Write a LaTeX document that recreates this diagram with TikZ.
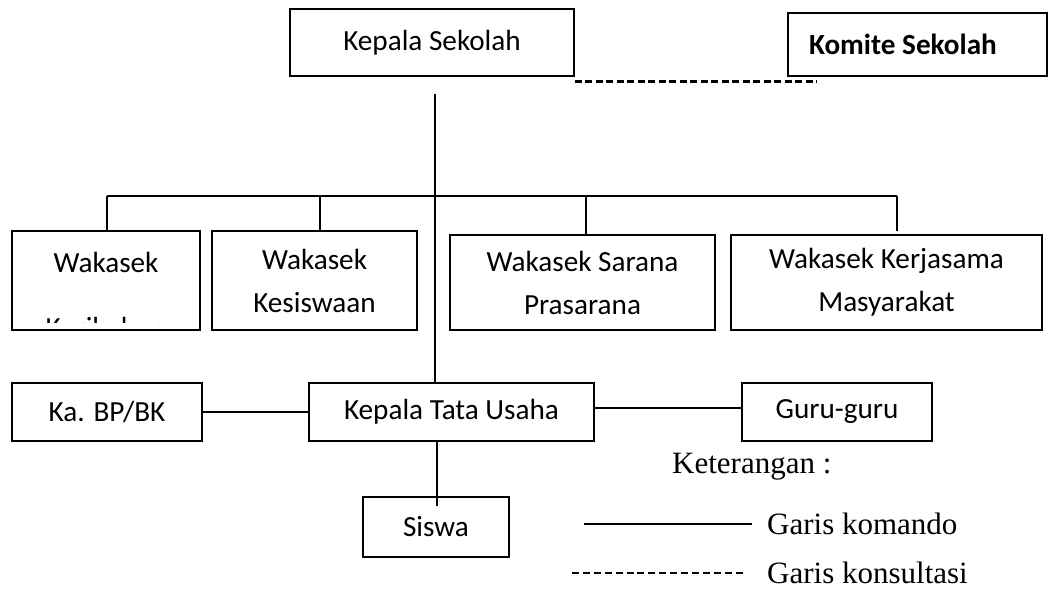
\documentclass[tikz,border=0pt]{standalone}
\usepackage{fontspec}
\setmainfont{Carlito}
\newfontfamily\legendfont{Liberation Serif}
\begin{document}
\begin{tikzpicture}[x=1pt, y=1pt,
	box/.style={draw, line width=1.6pt, inner sep=0pt, align=center, font=\fontsize{29.2}{43}\selectfont},
	link/.style={line width=1.3pt},
	consult/.style={line width=2.8pt, dash pattern=on 7pt off 3.5pt},
	consultkey/.style={line width=1.4pt, dash pattern=on 7pt off 3.9pt},
	legend/.style={anchor=west, inner sep=0pt, font=\legendfont\fontsize{31}{36}\selectfont}]
	\useasboundingbox (0,0) rectangle (1049,-590);
	\node[box, minimum width=284, minimum height=67] (kepala) at (432,-42.5) {Kepala Sekolah};
	\node[box, minimum height=63, text width=217, inner xsep=21pt, align=flush left] (komite) at (917.5,-44.5) {\bfseries Komite Sekolah};
	\draw[consult] ([yshift=-5pt]kepala.south east) -- ([xshift=30pt, yshift=-5pt]komite.south west);
	\node[box, minimum width=188, minimum height=99] (kurikulum) at (106,-280.5) {};
	\node[font=\fontsize{29.2}{43}\selectfont, inner sep=0pt] (kurikulumA) at (106,-262) {Wakasek};
	\begin{scope}
		\clip ([shift={(1pt,8pt)}]kurikulum.south west) rectangle ([shift={(-1pt,-1pt)}]kurikulum.north east);
		\node[font=\fontsize{29.2}{43}\selectfont, inner sep=0pt, anchor=base] (kurikulumB) at (106,-337) {Kurikulum};
	\end{scope}
	\node[box, minimum width=205, minimum height=99] (kesiswaan) at (314.5,-280.5) {Wakasek\\Kesiswaan};
	\node[box, minimum width=265, minimum height=95] (sarana) at (582.5,-282.5) {Wakasek Sarana\\Prasarana};
	\node[box, minimum width=311, minimum height=95] (humas) at (886.5,-282.5) {Wakasek Kerjasama\\Masyarakat};
	\node[box, minimum width=190, minimum height=58] (bk) at (107,-412) {Ka. BP/BK};
	\node[box, minimum width=285, minimum height=58] (tu) at (451.5,-412) {Kepala Tata Usaha};
	\node[box, minimum width=190, minimum height=58] (guru) at (837,-412) {Guru-guru};
	\node[box, minimum width=146, minimum height=60] (siswa) at (436,-527) {Siswa};
	\coordinate (stem) at (435,-94);
	\coordinate (barL) at (107,-196);
	\coordinate (barR) at (897,-196);
	\draw[link] (stem) -- (stem |- tu.north);
	\draw[link] (barL) -- (barR);
	\foreach \x/\y in {107/231, 320/231, 586/235, 897/231}
		\draw[link] (\x,-196) -- (\x,-\y);
	\draw[link] (bk) -- (tu);
	\draw[link] ([yshift=4pt]tu.east) -- ([yshift=4pt]guru.west);
	\draw[link] ([xshift=-14.5pt]tu.south) -- ([xshift=1pt, yshift=-10pt]siswa.north);
	\node[legend] (keterangan) at (672,-467) {Keterangan :};
	\node[legend] (komando) at (767,-524) {Garis komando};
	\node[legend] (konsultasi) at (767,-573) {Garis konsultasi};
	\draw[link] ([xshift=-183pt]komando.west) -- ([xshift=-15pt]komando.west);
	\draw[consultkey] ([xshift=-195pt]konsultasi.west) -- ([xshift=-21pt]konsultasi.west);
\end{tikzpicture}
\end{document}
